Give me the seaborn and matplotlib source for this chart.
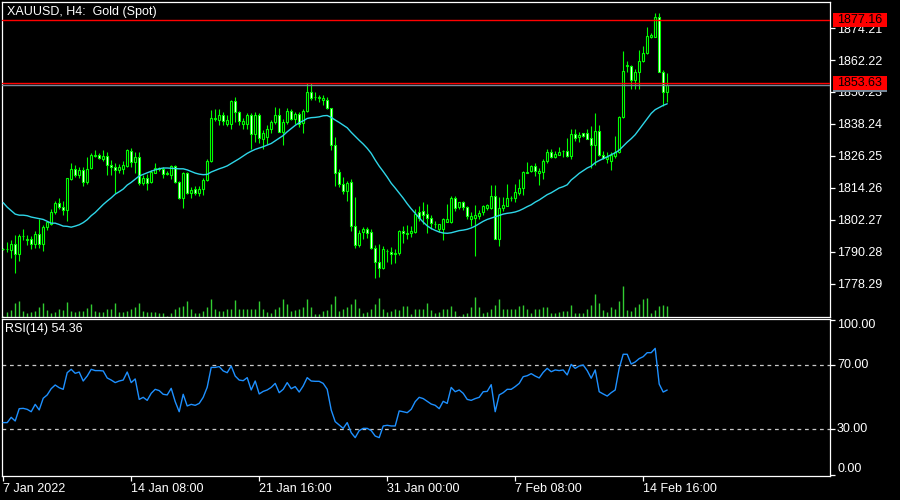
import numpy as np
import pandas as pd
import matplotlib
matplotlib.use("Agg")
import matplotlib.pyplot as plt
import matplotlib.transforms as mtransforms
from matplotlib.patches import Rectangle
import seaborn as sns

# ---------------- data ----------------
opens = [1791.2, 1791.4, 1790.8, 1793.2, 1789.5, 1796.0, 1794.7, 1795.2, 1793.2, 1796.9,
         1793.2, 1799.6, 1800.7, 1805.2, 1808.7, 1807.0, 1805.9, 1817.7, 1821.2, 1818.9,
         1820.8, 1816.3, 1821.7, 1826.3, 1826.4, 1825.2, 1826.2, 1822.9, 1822.0, 1820.8,
         1821.5, 1822.4, 1828.2, 1823.9, 1825.8, 1815.9, 1817.9, 1816.4, 1819.9, 1821.2,
         1821.4, 1819.6, 1818.9, 1822.4, 1816.4, 1810.4, 1819.8, 1812.2, 1813.8, 1812.2,
         1813.7, 1817.2, 1824.2, 1840.2, 1839.9, 1841.7, 1838.4, 1838.4, 1846.9, 1842.7,
         1838.4, 1838.4, 1841.7, 1834.4, 1841.7, 1832.7, 1833.2, 1836.4, 1838.9, 1841.7,
         1835.4, 1838.9, 1843.2, 1840.2, 1841.9, 1838.7, 1843.2, 1850.2, 1848.2, 1848.0,
         1847.2, 1847.2, 1844.2, 1830.2, 1820.2, 1815.7, 1812.9, 1816.4, 1799.9, 1792.7,
         1797.7, 1798.7, 1797.7, 1791.7, 1786.4, 1784.2, 1790.4, 1790.2, 1789.4, 1789.7,
         1798.2, 1797.1, 1797.2, 1797.7, 1805.2, 1805.4, 1804.4, 1802.9, 1800.7, 1798.7,
         1798.7, 1801.4, 1801.4, 1810.4, 1806.9, 1808.9, 1807.0, 1802.7, 1802.9, 1803.7,
         1805.2, 1806.7, 1806.7, 1811.2, 1795.2, 1806.7, 1807.6, 1810.3, 1810.4, 1812.4,
         1814.2, 1820.0, 1820.7, 1822.4, 1819.9, 1820.2, 1824.2, 1827.7, 1825.9, 1826.7,
         1827.9, 1828.2, 1826.2, 1834.4, 1833.2, 1834.7, 1834.7, 1832.9, 1830.4, 1835.7,
         1826.7, 1824.9, 1824.5, 1826.2, 1827.7, 1840.8, 1860.0, 1859.9, 1854.9, 1857.7,
         1861.7, 1864.9, 1870.9, 1870.9, 1878.3, 1857.9, 1850.4]
highs = [1791.8, 1793.9, 1794.5, 1796.4, 1797.0, 1798.9, 1796.7, 1796.2, 1798.2, 1802.7,
         1800.4, 1802.0, 1806.4, 1809.2, 1810.4, 1809.2, 1818.1, 1823.7, 1822.9, 1821.9,
         1822.2, 1825.8, 1827.4, 1828.4, 1827.4, 1828.4, 1827.7, 1824.7, 1823.7, 1823.2,
         1824.5, 1828.9, 1829.3, 1827.7, 1827.7, 1818.9, 1819.5, 1820.8, 1823.7, 1822.2,
         1822.2, 1820.4, 1822.7, 1822.9, 1816.7, 1820.2, 1820.2, 1814.5, 1814.9, 1814.9,
         1817.9, 1825.2, 1843.3, 1843.9, 1843.9, 1842.7, 1841.7, 1847.4, 1848.3, 1843.0,
         1840.4, 1842.4, 1842.4, 1842.7, 1842.4, 1835.8, 1837.7, 1839.7, 1844.7, 1844.2,
         1840.2, 1844.2, 1843.9, 1842.9, 1842.9, 1843.9, 1853.7, 1853.7, 1850.2, 1849.2,
         1849.2, 1848.3, 1844.4, 1833.3, 1821.4, 1818.3, 1816.7, 1817.4, 1810.8, 1798.3,
         1799.7, 1799.5, 1798.7, 1792.7, 1793.3, 1792.4, 1791.2, 1792.0, 1791.4, 1798.4,
         1800.1, 1800.4, 1800.1, 1806.4, 1807.4, 1808.9, 1808.3, 1803.9, 1801.9, 1800.8,
         1802.9, 1808.3, 1811.2, 1811.2, 1808.9, 1809.5, 1807.4, 1805.2, 1807.9, 1805.8,
         1807.7, 1808.3, 1815.2, 1815.2, 1810.8, 1810.8, 1815.8, 1811.2, 1815.8, 1817.7,
         1820.4, 1823.9, 1822.9, 1823.7, 1821.7, 1825.2, 1828.9, 1828.9, 1827.9, 1829.5,
         1828.4, 1832.9, 1836.2, 1836.2, 1835.2, 1834.9, 1836.4, 1837.4, 1842.4, 1837.9,
         1827.9, 1827.7, 1827.7, 1833.9, 1841.2, 1865.7, 1861.7, 1860.4, 1858.9, 1865.8,
         1867.4, 1874.6, 1872.4, 1879.9, 1879.9, 1858.3, 1857.4]
lows = [1790.8, 1790.2, 1787.9, 1782.4, 1786.7, 1794.5, 1792.9, 1791.4, 1791.7, 1791.7,
        1790.4, 1798.3, 1800.2, 1804.5, 1806.2, 1804.2, 1801.7, 1817.2, 1818.2, 1817.9,
        1814.8, 1815.8, 1821.2, 1825.8, 1824.9, 1824.2, 1819.2, 1819.2, 1812.4, 1819.7,
        1819.5, 1822.0, 1822.2, 1819.7, 1815.2, 1815.2, 1813.3, 1815.9, 1819.7, 1820.7,
        1817.9, 1818.9, 1817.7, 1816.2, 1809.9, 1806.7, 1812.0, 1810.4, 1811.4, 1811.2,
        1811.4, 1816.7, 1823.9, 1839.2, 1837.9, 1837.9, 1837.4, 1836.4, 1838.9, 1837.7,
        1836.4, 1836.4, 1828.7, 1831.4, 1831.2, 1828.7, 1830.8, 1834.9, 1838.3, 1835.2,
        1830.2, 1838.3, 1839.6, 1838.3, 1837.0, 1834.9, 1842.7, 1847.1, 1847.1, 1846.4,
        1845.2, 1843.7, 1828.3, 1814.9, 1814.5, 1812.0, 1809.5, 1797.9, 1791.7, 1791.9,
        1795.2, 1795.4, 1791.4, 1780.4, 1780.8, 1783.9, 1786.4, 1785.8, 1786.2, 1789.1,
        1793.7, 1794.9, 1795.8, 1797.4, 1801.7, 1800.8, 1797.4, 1798.9, 1799.2, 1797.7,
        1794.5, 1801.4, 1801.2, 1805.4, 1806.2, 1805.8, 1802.7, 1799.9, 1788.6, 1802.7,
        1804.2, 1805.9, 1806.2, 1794.9, 1792.4, 1805.4, 1807.4, 1809.2, 1808.9, 1811.4,
        1811.7, 1819.7, 1820.2, 1818.7, 1815.4, 1817.4, 1823.7, 1825.4, 1825.4, 1826.4,
        1825.7, 1825.7, 1824.9, 1831.7, 1831.4, 1833.4, 1832.4, 1821.7, 1822.7, 1826.2,
        1824.9, 1823.7, 1820.8, 1825.4, 1827.4, 1840.4, 1857.7, 1851.4, 1851.4, 1851.4,
        1861.4, 1864.6, 1870.4, 1870.7, 1857.7, 1844.9, 1846.4]
closes = [1791.4, 1791.2, 1793.3, 1789.5, 1796.2, 1796.3, 1795.2, 1793.2, 1796.9, 1793.2,
          1799.7, 1801.6, 1805.2, 1808.7, 1806.9, 1805.9, 1817.9, 1821.4, 1818.9, 1820.8,
          1816.4, 1821.4, 1826.7, 1826.5, 1825.4, 1826.3, 1822.7, 1821.9, 1820.8, 1822.2,
          1822.7, 1828.3, 1823.9, 1825.8, 1816.2, 1818.0, 1815.9, 1820.2, 1821.7, 1821.7,
          1819.3, 1819.7, 1822.4, 1816.4, 1810.4, 1819.8, 1812.4, 1813.4, 1812.2, 1813.9,
          1817.3, 1824.3, 1840.4, 1840.5, 1841.7, 1839.4, 1839.7, 1846.9, 1842.7, 1839.2,
          1839.4, 1841.7, 1834.4, 1841.7, 1832.9, 1834.9, 1836.4, 1838.9, 1841.7, 1835.4,
          1838.9, 1843.2, 1840.2, 1841.9, 1838.3, 1843.2, 1850.4, 1847.9, 1848.3, 1848.4,
          1847.9, 1844.2, 1830.2, 1819.9, 1815.7, 1812.9, 1816.0, 1799.9, 1792.7, 1797.4,
          1798.7, 1797.4, 1791.7, 1786.4, 1784.2, 1791.2, 1790.7, 1789.3, 1789.9, 1798.2,
          1797.2, 1797.3, 1798.2, 1804.4, 1802.9, 1804.2, 1802.9, 1800.9, 1800.7, 1800.7,
          1802.7, 1802.7, 1810.4, 1806.7, 1808.9, 1806.9, 1803.7, 1803.7, 1804.2, 1804.8,
          1807.4, 1807.7, 1811.2, 1795.2, 1806.6, 1807.9, 1810.4, 1810.5, 1812.7, 1814.2,
          1820.2, 1820.2, 1822.4, 1820.4, 1820.7, 1824.2, 1827.7, 1825.8, 1826.9, 1827.7,
          1827.9, 1826.2, 1834.4, 1832.9, 1834.2, 1833.7, 1832.7, 1830.4, 1835.7, 1826.4,
          1825.4, 1825.9, 1826.4, 1827.7, 1840.8, 1858.2, 1860.4, 1854.9, 1857.7, 1861.9,
          1864.9, 1871.2, 1871.7, 1878.3, 1857.9, 1850.4, 1852.8]
ma_values = [1808.7, 1807.0, 1805.7, 1804.4, 1804.0, 1804.0, 1803.8, 1803.3, 1803.0, 1802.7,
             1802.4, 1801.7, 1801.0, 1801.0, 1800.5, 1799.9, 1799.8, 1799.5, 1799.9, 1800.4,
             1801.2, 1802.3, 1803.8, 1805.0, 1806.5, 1808.0, 1809.3, 1810.5, 1811.9, 1812.8,
             1813.8, 1815.3, 1816.3, 1817.5, 1818.7, 1819.3, 1819.9, 1820.5, 1821.0, 1821.4,
             1821.7, 1821.7, 1821.6, 1821.5, 1821.4, 1821.4, 1821.0, 1820.4, 1819.8, 1819.4,
             1819.2, 1819.3, 1820.2, 1820.8, 1821.4, 1821.9, 1822.5, 1823.4, 1824.3, 1825.2,
             1826.2, 1827.2, 1828.0, 1828.7, 1829.2, 1829.7, 1830.3, 1830.9, 1831.9, 1832.9,
             1833.9, 1835.3, 1836.5, 1837.7, 1838.7, 1839.4, 1840.3, 1840.6, 1840.7, 1840.9,
             1841.3, 1841.4, 1840.7, 1839.7, 1838.8, 1837.8, 1836.8, 1835.1, 1833.6, 1832.1,
             1830.7, 1829.1, 1827.2, 1824.7, 1822.4, 1820.4, 1818.3, 1816.0, 1814.2, 1812.3,
             1810.4, 1808.3, 1806.4, 1804.7, 1803.0, 1801.4, 1800.0, 1799.0, 1798.3, 1797.7,
             1797.3, 1797.2, 1797.4, 1797.8, 1798.2, 1798.4, 1798.7, 1799.2, 1799.9, 1800.8,
             1801.7, 1802.4, 1802.9, 1803.4, 1803.9, 1804.4, 1804.7, 1804.9, 1805.2, 1805.7,
             1806.4, 1807.2, 1807.9, 1808.9, 1809.7, 1810.7, 1811.7, 1812.4, 1813.3, 1814.2,
             1814.7, 1815.4, 1817.2, 1818.4, 1819.7, 1820.7, 1821.7, 1822.4, 1823.7, 1824.5,
             1825.2, 1825.9, 1826.7, 1827.4, 1828.4, 1829.9, 1831.4, 1832.7, 1834.2, 1836.2,
             1838.2, 1840.2, 1842.2, 1843.6, 1844.4, 1845.2, 1845.8]
volumes = [3, 13, 21, 40, 48, 18, 12, 15, 18, 28, 42, 21, 12, 15, 24, 20, 45, 18, 15, 16,
           16, 26, 39, 18, 13, 15, 24, 22, 42, 15, 15, 18, 22, 28, 42, 18, 15, 15, 15, 11,
           10, 2, 10, 23, 30, 33, 48, 22, 10, 12, 16, 28, 52, 24, 18, 18, 22, 24, 51, 24,
           24, 24, 24, 22, 48, 24, 15, 12, 24, 30, 54, 39, 18, 21, 24, 30, 53, 30, 9, 8,
           18, 20, 38, 63, 18, 22, 30, 38, 53, 26, 12, 14, 24, 38, 57, 24, 14, 18, 22, 20,
           32, 32, 9, 22, 22, 22, 42, 20, 10, 14, 24, 22, 33, 18, 2, 9, 12, 28, 60, 30,
           12, 14, 24, 34, 52, 22, 22, 22, 22, 32, 34, 22, 10, 22, 24, 30, 30, 12, 10, 14,
           18, 18, 34, 12, 10, 10, 22, 34, 68, 42, 20, 14, 30, 24, 48, 93, 20, 18, 30, 38,
           54, 57, 12, 20, 33, 36, 33]
rsi_values = [34.0, 34.0, 37.3, 35.0, 42.7, 42.9, 42.3, 40.8, 45.4, 41.9,
              49.2, 51.3, 55.2, 57.5, 55.8, 54.8, 65.2, 67.3, 64.8, 65.6,
              60.0, 63.1, 67.3, 66.5, 66.5, 66.3, 61.9, 60.6, 59.0, 60.0,
              60.6, 65.6, 59.0, 61.3, 48.5, 49.8, 47.9, 52.3, 54.8, 54.0,
              51.7, 51.3, 55.4, 47.1, 40.8, 51.7, 44.4, 45.4, 44.8, 46.0,
              49.8, 56.1, 68.5, 68.5, 69.0, 66.3, 65.2, 69.4, 63.1, 60.6,
              60.2, 62.1, 54.4, 60.0, 51.9, 53.5, 54.4, 56.0, 58.5, 52.7,
              54.8, 59.0, 55.2, 56.5, 53.1, 56.9, 62.1, 60.0, 59.8, 59.8,
              58.5, 54.8, 41.9, 34.6, 32.5, 30.4, 34.0, 27.7, 24.6, 29.0,
              30.4, 30.4, 29.0, 25.6, 24.6, 31.9, 32.3, 31.9, 31.9, 41.3,
              40.8, 40.2, 42.3, 47.1, 49.8, 49.0, 47.3, 45.6, 44.8, 42.7,
              47.3, 46.0, 56.0, 53.3, 54.4, 52.3, 48.5, 47.9, 49.0, 49.8,
              53.3, 53.5, 57.7, 40.8, 51.3, 52.7, 54.8, 54.8, 56.5, 58.5,
              62.7, 63.3, 64.6, 63.1, 61.9, 65.4, 67.9, 65.8, 66.9, 66.5,
              66.9, 63.8, 70.4, 67.9, 69.4, 70.0, 66.5, 61.7, 66.9, 53.3,
              51.9, 50.6, 52.7, 54.4, 67.9, 76.7, 76.7, 70.6, 71.9, 74.0,
              75.2, 77.7, 77.7, 80.4, 58.1, 53.1, 54.36]
price_ticks = [1778.29, 1790.28, 1802.27, 1814.26, 1826.25, 1838.24, 1850.23, 1862.22, 1874.21]
hline_levels = [1877.16, 1853.63]
rsi_levels = [70, 30]
rsi_tick_labels = ["100.00", "70.00", "30.00", "0.00"]
tick_times = ["2022-01-07 00:00", "2022-01-14 08:00", "2022-01-21 16:00",
              "2022-01-31 00:00", "2022-02-07 08:00", "2022-02-14 16:00"]
tick_labels = ["7 Jan 2022", "14 Jan 08:00", "21 Jan 16:00",
               "31 Jan 00:00", "7 Feb 08:00", "14 Feb 16:00"]
title = "XAUUSD, H4:  Gold (Spot)"

# ---------------- build table ----------------
N = len(closes)
times = pd.date_range("2022-01-07 00:00", periods=N * 2, freq="4h")
times = times[times.weekday < 5][:N]
df = pd.DataFrame({"t": times, "open": opens, "high": highs, "low": lows,
                   "close": closes, "ma": ma_values, "vol": volumes, "rsi": rsi_values})
df["i"] = np.arange(N)
tick_idx = [int(df.index[df["t"] == pd.Timestamp(t)][0]) for t in tick_times]

# ---------------- style ----------------
sns.set_theme(style="dark", rc={"axes.facecolor": "black", "figure.facecolor": "black",
                                "savefig.facecolor": "black"})
plt.rcParams["font.family"] = ["Liberation Sans", "DejaVu Sans"]

GREEN = "#00FF00"
VOLG = "#32CD32"
CYAN = "#2ED6E8"
FS = 9

W, H = 900, 500
fig = plt.figure(figsize=(9, 5), dpi=100)
ax = fig.add_axes([2 / W, 1 - 316.7 / H, 828 / W, 314.7 / H])
axr = fig.add_axes([2 / W, 1 - 476 / H, 828 / W, 157 / H])

for a in (ax, axr):
    a.set_facecolor("black")
    for s in a.spines.values():
        s.set_color("white")
        s.set_linewidth(0.9)
    a.set_xlim(-0.3, 206.7)
    a.grid(False)

# ---------------- price pane ----------------
ymin, ymax = 1765.9, 1884.0
ax.set_ylim(ymin, ymax)
x = df["i"].values
o, h, l, c = df["open"].values, df["high"].values, df["low"].values, df["close"].values
bull = c >= o

# volumes at the bottom of the pane
vtrans = mtransforms.blended_transform_factory(ax.transData, ax.transAxes)
vol = df["vol"].values.astype(float)
ax.vlines(x, 0, vol / vol.max() * 0.0985, transform=vtrans, color=VOLG, lw=1.0, zorder=1)

ax.vlines(x, l, h, color=GREEN, lw=0.8, zorder=2)
body = np.maximum(np.abs(c - o), 0.12)
ax.bar(x, body, bottom=np.minimum(o, c), width=0.5,
       color=np.where(bull, "black", "white"), edgecolor=GREEN, linewidth=0.8, zorder=3)

sns.lineplot(data=df, x="i", y="ma", ax=ax, color=CYAN, lw=1.0, zorder=4)

for lv in hline_levels:
    ax.axhline(lv, color="red", lw=1.0, zorder=5)
ax.axhline(c[-1], color="#778899", lw=1.0, zorder=5)

ax.set_yticks(price_ticks)
ax.set_yticklabels([f"{v:.2f}" for v in price_ticks])
ax.set_xticks([])
ax.tick_params(axis="y", left=False, labelleft=False, right=True, labelright=True,
               colors="white", labelcolor="white", length=3.5, width=0.9, pad=1.5,
               labelsize=FS, direction="out")
ax.set_xlabel("")
ax.set_ylabel("")

# price labels on the scale
btr = mtransforms.blended_transform_factory(fig.transFigure, ax.transData)
px = (ymax - ymin) / 314.7
bh = 14 * px


def price_box(p, fc, txt):
    ax.add_patch(Rectangle((833 / W, p - bh / 2), 54 / W, bh, transform=btr,
                           facecolor=fc, edgecolor="none", clip_on=False, zorder=10))
    if txt:
        ax.text(860 / W, p, f"{p:.2f}", transform=btr, ha="center", va="center",
                color="black", fontsize=FS, zorder=11, clip_on=False)


price_box(c[-1], "#778899", False)
for lv in hline_levels:
    price_box(lv, "red", True)

fig.text(7 / W, 1 - 12 / H, title, color="white", fontsize=FS, ha="left", va="center")

# ---------------- RSI pane ----------------
axr.set_ylim(0.625, 98.75)
for lv in rsi_levels:
    axr.axhline(lv, color="#C8C8C8", lw=0.9, ls=(0, (3, 3)), zorder=1)
sns.lineplot(data=df, x="i", y="rsi", ax=axr, color="#1E90FF", lw=1.0, zorder=3)
axr.set_xlabel("")
axr.set_ylabel("")
axr.set_yticks([1.2, 30, 70, 98.0])
axr.set_yticklabels([])
axr.tick_params(axis="y", left=False, right=True, labelleft=False, colors="white",
                length=3.5, width=0.9, direction="out")
axr.set_xticks(tick_idx)
axr.set_xticklabels(tick_labels)
axr.tick_params(axis="x", bottom=True, colors="white", labelcolor="white", length=3.5,
                width=0.9, pad=1.5, labelsize=FS, direction="out")
for lbl in axr.get_xticklabels():
    lbl.set_ha("left")

for lab, ypx in zip(rsi_tick_labels, [325, 365, 429, 469]):
    fig.text(837 / W, 1 - ypx / H, lab, color="white", fontsize=FS, ha="left", va="center")

fig.text(5 / W, 1 - 329 / H, f"RSI(14) {df['rsi'].iloc[-1]:.2f}", color="white",
         fontsize=FS, ha="left", va="center")

fig.savefig("out.png", dpi=100, facecolor="black")
